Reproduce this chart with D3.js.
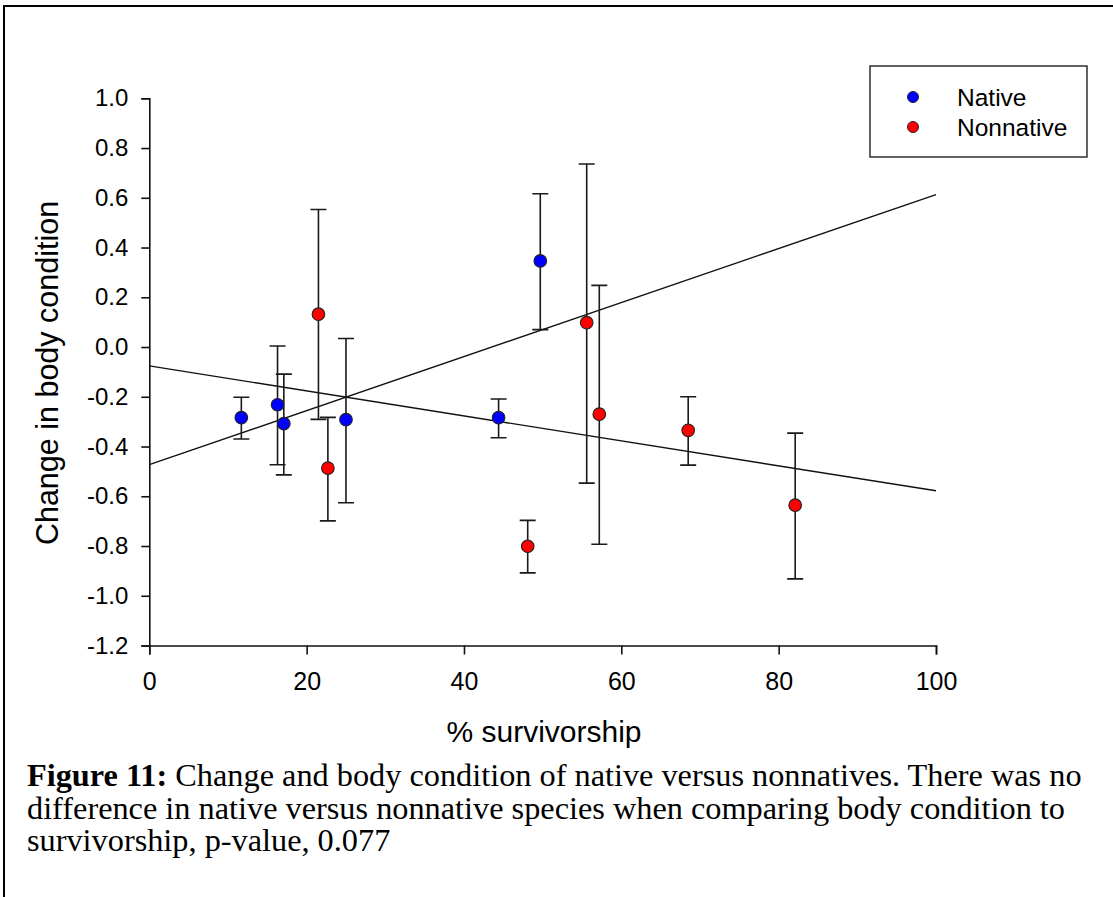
<!DOCTYPE html>
<html>
<head>
<meta charset="utf-8">
<script src="https://cdnjs.cloudflare.com/ajax/libs/d3/7.8.5/d3.min.js"></script>
<style>
  body { margin: 0; background: #fff; }
  svg { display: block; }
</style>
</head>
<body>
<script>
// Native points: % survivorship, mean change, error bar top and bottom
var nativeX = [11.7, 16.3, 17.1, 25.0, 44.4, 49.7];
var nativeY = [-0.284, -0.232, -0.308, -0.292, -0.284, 0.346];
var nativeHi = [-0.202, 0.004, -0.109, 0.034, -0.209, 0.616];
var nativeLo = [-0.370, -0.473, -0.514, -0.626, -0.365, 0.070];

// Nonnative points
var nonnativeX = [21.5, 22.7, 48.1, 55.6, 57.2, 68.5, 82.1];
var nonnativeY = [0.132, -0.487, -0.801, 0.098, -0.270, -0.335, -0.636];
var nonnativeHi = [0.553, -0.283, -0.697, 0.736, 0.248, -0.200, -0.346];
var nonnativeLo = [-0.291, -0.699, -0.908, -0.547, -0.793, -0.475, -0.932];

// Regression lines, value at x = 0 and x = 100
var fitX = [0, 100];
var nativeFit = [-0.473, 0.613];
var nonnativeFit = [-0.076, -0.578];

// Tick labels
var xTicks = [0, 20, 40, 60, 80, 100];
var yTicks = [1.0, 0.8, 0.6, 0.4, 0.2, 0.0, -0.2, -0.4, -0.6, -0.8, -1.0, -1.2];

var seriesNames = ["Native", "Nonnative"];
var seriesColors = ["#0000ff", "#ff0000"];

var svgWidth = 1113;
var svgHeight = 897;

// plot area in page pixels
var margin = { top: 98.3, left: 149.3 };
var chartWidth = 936 - margin.left;
var chartHeight = 645.5 - margin.top;

var sansFont = "'Liberation Sans', Arial, sans-serif";
var serifFont = "'Liberation Serif', 'Times New Roman', serif";

var svg = d3.select("body")
  .append("svg")
  .attr("width", svgWidth)
  .attr("height", svgHeight);

// page frame (top and left edges only)
svg.append("path")
  .attr("d", "M4,897 L4,6 L1113,6")
  .attr("fill", "none")
  .attr("stroke", "#000")
  .attr("stroke-width", 2);

var chartGroup = svg.append("g")
  .attr("transform", `translate(${margin.left}, ${margin.top})`);

var xLinearScale = d3.scaleLinear()
  .domain([0, 100])
  .range([0, chartWidth]);

var yLinearScale = d3.scaleLinear()
  .domain([-1.2, 1.0])
  .range([chartHeight, 0]);

var leftAxis = d3.axisLeft(yLinearScale)
  .tickValues(yTicks)
  .tickFormat(d3.format(".1f"))
  .tickSize(8)
  .tickPadding(13);

var bottomAxis = d3.axisBottom(xLinearScale)
  .tickValues(xTicks)
  .tickFormat(d3.format("d"))
  .tickSize(9)
  .tickPadding(18);

var yAxisG = chartGroup.append("g")
  .call(leftAxis);

var xAxisG = chartGroup.append("g")
  .attr("transform", "translate(0, " + chartHeight + ")")
  .call(bottomAxis);

[yAxisG, xAxisG].forEach(function (g) {
  g.select(".domain").attr("stroke", "#111").attr("stroke-width", 1.6);
  g.selectAll(".tick line").attr("stroke", "#111").attr("stroke-width", 1.6);
  g.selectAll("text")
    .attr("fill", "#000")
    .attr("font-family", sansFont);
});
yAxisG.selectAll("text").attr("font-size", "24px").text(d => d3.format(".1f")(d).replace("−", "-"));
xAxisG.selectAll("text").attr("font-size", "25px").attr("dy", "0.71em");

// regression lines
var fitLine = d3.line()
  .x(d => xLinearScale(d[0]))
  .y(d => yLinearScale(d[1]));

[nativeFit, nonnativeFit].forEach(function (fit) {
  chartGroup.append("path")
    .datum(fitX.map((x, i) => [x, fit[i]]))
    .attr("d", fitLine)
    .attr("fill", "none")
    .attr("stroke", "#111")
    .attr("stroke-width", 1.4);
});

// build point lists
var nativePts = nativeX.map((x, i) => ({ x: x, y: nativeY[i], hi: nativeHi[i], lo: nativeLo[i], s: 0 }));
var nonnativePts = nonnativeX.map((x, i) => ({ x: x, y: nonnativeY[i], hi: nonnativeHi[i], lo: nonnativeLo[i], s: 1 }));
var allPts = nativePts.concat(nonnativePts);

var capHalf = 8;

// error bars
var errGroup = chartGroup.append("g")
  .attr("stroke", "#1a1a1a")
  .attr("stroke-width", 1.6);

errGroup.selectAll(".err")
  .data(allPts)
  .enter()
  .append("path")
  .attr("fill", "none")
  .attr("d", function (d) {
    var cx = xLinearScale(d.x);
    var yh = yLinearScale(d.hi);
    var yl = yLinearScale(d.lo);
    return "M" + cx + "," + yh + " L" + cx + "," + yl +
      " M" + (cx - capHalf) + "," + yh + " L" + (cx + capHalf) + "," + yh +
      " M" + (cx - capHalf) + "," + yl + " L" + (cx + capHalf) + "," + yl;
  });

// points
chartGroup.selectAll("circle")
  .data(allPts)
  .enter()
  .append("circle")
  .attr("cx", d => xLinearScale(d.x))
  .attr("cy", d => yLinearScale(d.y))
  .attr("r", 6.3)
  .attr("fill", d => seriesColors[d.s])
  .attr("stroke", "#222")
  .attr("stroke-width", 1.1);

// axis titles
svg.append("text")
  .attr("x", 544)
  .attr("y", 742)
  .attr("text-anchor", "middle")
  .attr("font-family", sansFont)
  .attr("font-size", "30px")
  .text("% survivorship");

svg.append("text")
  .attr("transform", "translate(58, 373) rotate(-90)")
  .attr("text-anchor", "middle")
  .attr("font-family", sansFont)
  .attr("font-size", "30.5px")
  .text("Change in body condition");

// legend
var legend = svg.append("g")
  .attr("transform", "translate(870, 66)");

legend.append("rect")
  .attr("width", 217)
  .attr("height", 91)
  .attr("fill", "#fff")
  .attr("stroke", "#222")
  .attr("stroke-width", 1.4);

seriesNames.forEach(function (name, i) {
  legend.append("circle")
    .attr("cx", 43)
    .attr("cy", 31 + i * 30)
    .attr("r", 5.5)
    .attr("fill", seriesColors[i])
    .attr("stroke", "#222")
    .attr("stroke-width", 1);
  legend.append("text")
    .attr("x", 87)
    .attr("y", 31 + i * 30)
    .attr("dy", "0.36em")
    .attr("font-family", sansFont)
    .attr("font-size", "24.5px")
    .text(name);
});

// figure caption
var captionLines = [
  [["Figure 11:", true], [" Change and body condition of native versus nonnatives. There was no", false]],
  [["difference in native versus nonnative species when comparing body condition to", false]],
  [["survivorship, p-value, 0.077", false]]
];

var caption = svg.append("text")
  .attr("font-family", serifFont)
  .attr("font-size", "32.3px")
  .attr("fill", "#000");

captionLines.forEach(function (line, i) {
  line.forEach(function (part, j) {
    var span = caption.append("tspan")
      .attr("font-weight", part[1] ? "bold" : "normal")
      .text(part[0]);
    if (j === 0) {
      span.attr("x", 27).attr("y", 786 + i * 32.5);
    }
  });
});
</script>
</body>
</html>
